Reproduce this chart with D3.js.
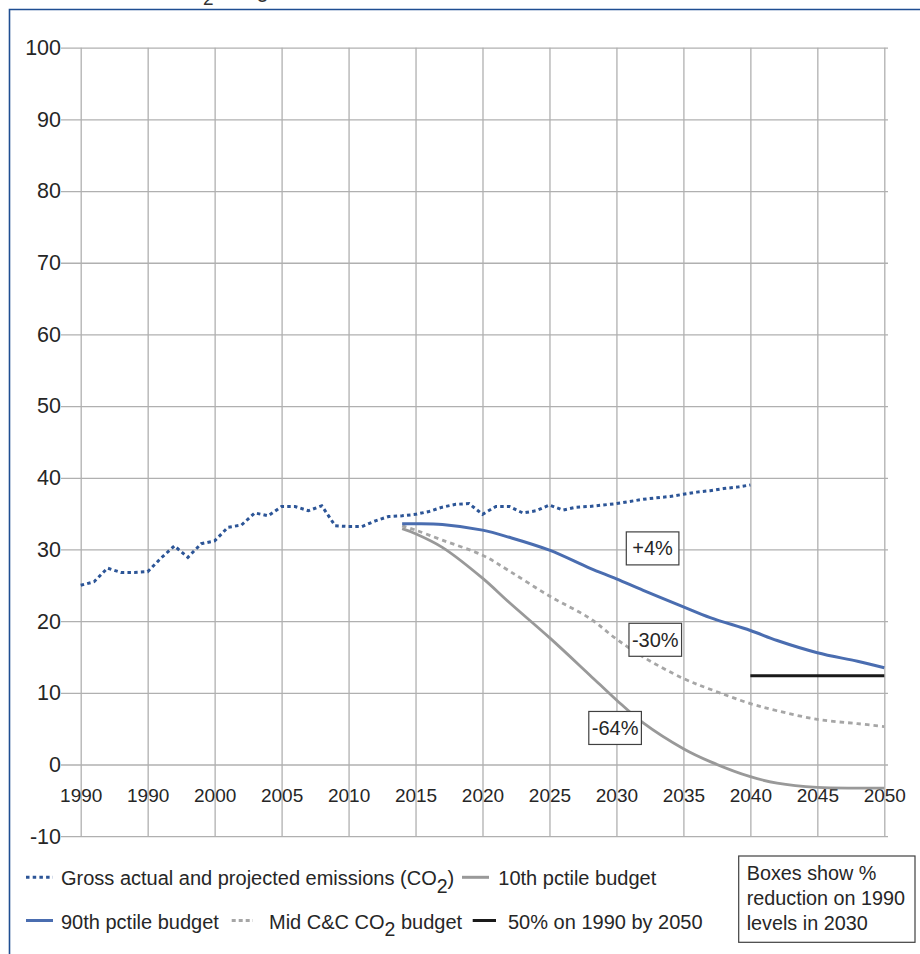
<!DOCTYPE html>
<html><head><meta charset="utf-8">
<script src="https://cdn.jsdelivr.net/npm/d3@7"></script>
<style>
body{margin:0;background:#fff;}
svg{display:block;font-family:"Liberation Sans",Arial,sans-serif;}
</style>
</head><body>
<svg id="c" width="920" height="954"></svg>
<script>
// ---------- DATA ----------
const tickYears  = [1990,1995,2000,2005,2010,2015,2020,2025,2030,2035,2040,2045,2050];
const tickLabels = ["1990","1990","2000","2005","2010","2015","2020","2025","2030","2035","2040","2045","2050"];
const yTicks = [-10,0,10,20,30,40,50,60,70,80,90,100];

const grossYears = [1990,1991,1992,1993,1994,1995,1996,1997,1998,1999,2000,2001,2002,2003,2004,2005,2006,2007,2008,2009,
  2010,2011,2012,2013,2014,2015,2016,2017,2018,2019,2020,2021,2022,2023,2024,2025,2026,2027,2028,2029,
  2030,2031,2032,2033,2034,2035,2036,2037,2038,2039,2040];
const grossValues = [25.0,25.5,27.4,26.8,26.8,26.9,28.8,30.5,28.9,30.8,31.2,33.1,33.4,35.1,34.7,36.0,36.0,35.4,36.1,33.3,
  33.2,33.2,34.0,34.6,34.7,34.9,35.3,35.9,36.3,36.4,34.9,36.0,36.0,35.1,35.4,36.2,35.5,35.9,36.0,36.2,
  36.4,36.7,37.0,37.2,37.4,37.7,38.0,38.2,38.5,38.7,39.0];

const budgetYears = [2014,2015,2017,2020,2022,2025,2028,2030,2032,2035,2037,2040,2042,2045,2048,2050];
const p90Values   = [33.6,33.6,33.5,32.7,31.7,29.9,27.4,25.9,24.3,22.0,20.5,18.7,17.3,15.6,14.4,13.5];
const midValues   = [33.3,32.7,31.3,29.2,27.0,23.5,20.4,17.5,15.0,12.0,10.5,8.5,7.5,6.3,5.7,5.3];
const p10Values   = [32.9,32.2,30.3,26.0,22.6,17.7,12.5,9.0,5.8,2.2,0.4,-1.7,-2.6,-3.2,-3.3,-3.3];

const targetYears  = [2040,2050];
const targetValues = [12.4,12.4];

const boxLabels = ["+4%","-30%","-64%"];
const boxYears  = [2032.7,2032.9,2029.9];
const boxValues = [30.15,17.4,5.1];

const noteLines = ["Boxes show %","reduction on 1990","levels in 2030"];

// ---------- CHART ----------
const svg = d3.select("#c");
const x = d3.scaleLinear().domain([1990,2050]).range([80.7,884.3]);
const y = d3.scaleLinear().domain([-10,100]).range([836.2,47.7]);
const textCol = "#262626";
const gridCol = "#b0b0b0";

// frame
svg.append("path").attr("d","M9.5,954 L9.5,9.5 L920,9.5")
  .attr("fill","none").attr("stroke","#1f4e92").attr("stroke-width",1.6);

// cropped title (only descenders visible, as in the reference)
const title = svg.append("text").attr("x",170).attr("y",-2.6).attr("font-size",22).attr("fill","#333");
title.append("tspan").text("CO");
title.append("tspan").attr("dy",8).attr("font-size",19).text("2");
title.append("tspan").attr("dy",-8).text(" budgets");

// horizontal grid + y labels
const yAxis = d3.axisLeft(y).tickValues(yTicks).tickSize(-(888-61)).tickPadding(0).tickFormat(d=>String(d));
const gy = svg.append("g").attr("transform","translate(61,0)").call(yAxis);
gy.select(".domain").remove();
gy.selectAll("line").attr("stroke",gridCol).attr("stroke-width",1.3);
gy.selectAll("text").attr("font-size",21.5).attr("fill",textCol).attr("font-family","Liberation Sans, Arial, sans-serif");

// vertical grid
const xGrid = d3.axisBottom(x).tickValues(tickYears).tickSize(-(y(-10)-y(100))).tickFormat("");
const gx = svg.append("g").attr("transform",`translate(0,${y(-10)})`).call(xGrid);
gx.select(".domain").remove();
gx.selectAll("line").attr("stroke",gridCol).attr("stroke-width",1.3);

// x labels just below the zero line
const xLab = d3.axisBottom(x).tickValues(tickYears).tickSize(0).tickPadding(23.5).tickFormat((d,i)=>tickLabels[i]);
const gl = svg.append("g").attr("transform",`translate(0,${y(0)})`).call(xLab);
gl.select(".domain").remove();
gl.selectAll("text").attr("font-size",19).attr("fill",textCol).attr("font-family","Liberation Sans, Arial, sans-serif");

// series
const smooth = d3.line().x(d=>x(d[0])).y(d=>y(d[1])).curve(d3.curveCatmullRom.alpha(0.5));
const straight = d3.line().x(d=>x(d[0])).y(d=>y(d[1]));

const gross = d3.zip(grossYears,grossValues);
const p90 = d3.zip(budgetYears,p90Values);
const mid = d3.zip(budgetYears,midValues);
const p10 = d3.zip(budgetYears,p10Values);
const target = d3.zip(targetYears,targetValues);

svg.append("path").attr("d",smooth(p10)).attr("fill","none").attr("stroke","#999999").attr("stroke-width",2.8);
svg.append("path").attr("d",smooth(mid)).attr("fill","none").attr("stroke","#a6a6a6").attr("stroke-width",2.8).attr("stroke-dasharray","4.5,4");
svg.append("path").attr("d",smooth(p90)).attr("fill","none").attr("stroke","#4a6db0").attr("stroke-width",3);
svg.append("path").attr("d",straight(gross)).attr("fill","none").attr("stroke","#2c5597").attr("stroke-width",3).attr("stroke-dasharray","3.5,3.2");
svg.append("path").attr("d",straight(target)).attr("fill","none").attr("stroke","#1a1a1a").attr("stroke-width",3);

// percentage boxes
boxLabels.forEach((lab,i)=>{
  const cx = x(boxYears[i]), cy = y(boxValues[i]);
  const w = 52.6, h = 33;
  svg.append("rect").attr("x",cx-w/2).attr("y",cy-h/2).attr("width",w).attr("height",h)
    .attr("fill","#fff").attr("stroke","#404040").attr("stroke-width",1.2);
  svg.append("text").attr("x",cx).attr("y",cy+7).attr("text-anchor","middle")
    .attr("font-size",20).attr("fill",textCol).text(lab);
});

// legend
const legend = [
  {row:0, x0:26, x1:53, tx:61, color:"#2c5597", dash:"3.5,3.2", label:["Gross actual and projected emissions (CO","2",")"]},
  {row:0, x0:462, x1:489, tx:498.3, color:"#999999", dash:null, label:["10th pctile budget"]},
  {row:1, x0:26, x1:53, tx:61, color:"#4a6db0", dash:null, label:["90th pctile budget"]},
  {row:1, x0:231.7, x1:253, tx:269, color:"#a6a6a6", dash:"4,3", label:["Mid C&C CO","2"," budget"]},
  {row:1, x0:472.7, x1:496, tx:508, color:"#1a1a1a", dash:null, label:["50% on 1990 by 2050"]}
];
const rowBase = [885.3, 928.5];
legend.forEach(it=>{
  const by = rowBase[it.row];
  svg.append("line").attr("x1",it.x0).attr("x2",it.x1).attr("y1",by-8).attr("y2",by-8)
    .attr("stroke",it.color).attr("stroke-width",3).attr("stroke-dasharray",it.dash);
  const t = svg.append("text").attr("x",it.tx).attr("y",by).attr("font-size",20).attr("fill",textCol);
  it.label.forEach((s,j)=>{
    const sp = t.append("tspan").text(s);
    if (j===1) sp.attr("dy",7.5).attr("font-size",19.5);
    if (j===2) sp.attr("dy",-7.5);
  });
});

// note box
svg.append("rect").attr("x",738.7).attr("y",856).attr("width",176.3).attr("height",86.3)
  .attr("fill","#fff").attr("stroke","#404040").attr("stroke-width",1.2);
noteLines.forEach((s,i)=>{
  svg.append("text").attr("x",746.7).attr("y",880+i*25).attr("font-size",19.8).attr("fill",textCol).text(s);
});
</script>
</body></html>
